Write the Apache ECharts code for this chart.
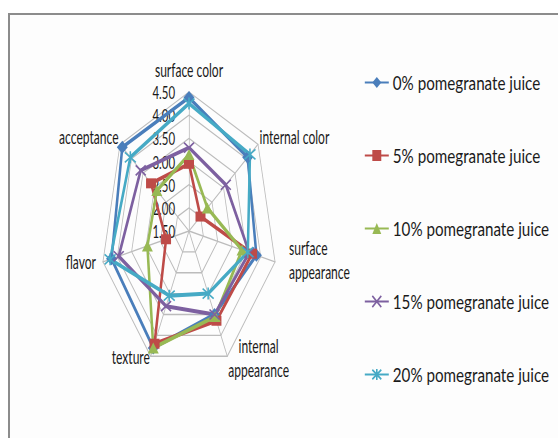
<!DOCTYPE html>
<html>
<head>
<meta charset="utf-8">
<script src="https://cdn.jsdelivr.net/npm/echarts@6/dist/echarts.min.js"></script>
<style>
html,body{margin:0;padding:0;background:#ffffff;}
#wrap{position:relative;width:558px;height:438px;overflow:hidden;background:#ffffff;}
#frame{position:absolute;left:8px;top:13px;width:700px;height:600px;border-left:2px solid #8c8c8c;border-top:2px solid #8c8c8c;background:#fdfdfd;}
#plot{position:absolute;left:-300px;top:0;width:1158px;height:438px;transform-origin:489px 231px;transform:scaleX(0.635);}
#leg{position:absolute;left:360px;top:0;width:260px;height:438px;transform-origin:0 0;transform:scaleX(0.8);}
</style>
</head>
<body>
<div id="wrap"><div id="frame"></div><div id="plot"></div><div id="leg"></div></div>
<script>
// ---- data ----
const categories = ['surface color', 'internal color', 'surface appearance', 'internal appearance', 'texture', 'flavor', 'acceptance'];
const seriesNames = ['0% pomegranate juice', '5% pomegranate juice', '10% pomegranate juice', '15% pomegranate juice', '20% pomegranate juice'];
const juice0  = [4.38, 4.05, 3.85, 3.50, 4.30, 4.20, 4.40];
const juice5  = [2.95, 2.00, 3.70, 3.65, 4.20, 2.30, 3.15];
const juice10 = [3.15, 2.30, 3.35, 3.55, 4.30, 2.95, 2.90];
const juice15 = [3.30, 3.10, 3.60, 3.50, 3.30, 3.95, 3.60];
const juice20 = [4.25, 4.15, 3.55, 3.00, 3.05, 4.25, 4.05];
const scaleMin = 1.5;
const scaleMax = 4.5;
const scaleStep = 0.5;

// ---- style / layout ----
const OFF = 300;                       // plot div starts 300px left of the page
const CX = 189 + OFF, CY = 231, R = 139, SX = 0.635;
const colors = ['#4a7ebb', '#be4b48', '#98b954', '#7d60a0', '#46aac5'];
const symbols = [
  'diamond',
  'rect',
  'triangle',
  'path://M0,0L10,10M10,0L0,10',
  'path://M0,0L10,10M10,0L0,10M5,-1L5,11'
];
const symSizes = [[11, 13], [10, 10], [11, 11], [10, 10], [11, 12]];
const FONT = 'Lato, "Open Sans", sans-serif';
const TXT = '#1a1a1a';

// rich-text styles used to nudge individual axis names (layout only)
const nameRich = {
  top:  {fontFamily: FONT, fontSize: 19, color: TXT, padding: [0, 0, 10, 0]},
  up:   {fontFamily: FONT, fontSize: 19, color: TXT, padding: [0, 0, 12, 0]},
  sapp: {fontFamily: FONT, fontSize: 19, color: TXT, lineHeight: 24, padding: [0, 0, 6, 19]},
  mid:  {fontFamily: FONT, fontSize: 19, color: TXT, lineHeight: 24, align: 'center', padding: [0, 0, 4, 0]},
  tex:  {fontFamily: FONT, fontSize: 19, color: TXT, padding: [0, 0, 6, 0]},
  flav: {fontFamily: FONT, fontSize: 19, color: TXT, padding: [0, 8, 3, 0]},
  std:  {fontFamily: FONT, fontSize: 19, color: TXT}
};
const nameStyleKey = {
  'surface color': 'top',
  'internal color': 'up',
  'acceptance': 'up',
  'surface appearance': 'sapp',
  'internal appearance': 'mid',
  'texture': 'tex',
  'flavor': 'flav'
};
function formatName(name) {
  const key = nameStyleKey[name] || 'std';
  return name.indexOf('appearance') >= 0
    ? name.split(' ').map(w => '{' + key + '|' + w + '}').join('\n')
    : '{' + key + '|' + name + '}';
}

// ECharts lays radar indicators counter-clockwise; the reference runs clockwise.
const order = [0, 6, 5, 4, 3, 2, 1];
const allData = [juice0, juice5, juice10, juice15, juice20];

const indicators = order.map((i, k) => {
  const ind = {name: categories[i], min: scaleMin, max: scaleMax};
  if (k !== 0) ind.axisLabel = {show: false};
  return ind;
});

// ---- radar plot (squeezed horizontally like the reference) ----
const plot = echarts.init(document.getElementById('plot'), null, {renderer: 'svg'});
plot.setOption({
  animation: false,
  radar: {
    center: [CX, CY],
    radius: R,
    startAngle: 90,
    splitNumber: Math.round((scaleMax - scaleMin) / scaleStep),
    shape: 'polygon',
    indicator: indicators,
    nameGap: 3,
    axisName: {
      fontFamily: FONT, fontSize: 19, color: TXT,
      formatter: formatName,
      rich: nameRich
    },
    axisLabel: {
      show: true, margin: 22, fontFamily: FONT, fontSize: 18, color: TXT,
      formatter: v => Number(v).toFixed(2)
    },
    axisTick: {show: false},
    axisLine: {lineStyle: {color: '#bcbcbc', width: 1.3}},
    splitLine: {lineStyle: {color: '#bcbcbc', width: 1.3}},
    splitArea: {show: false}
  },
  series: allData.map((vals, s) => ({
    type: 'radar',
    name: seriesNames[s],
    symbol: symbols[s],
    symbolSize: [symSizes[s][0] / SX, symSizes[s][1]],
    lineStyle: {color: colors[s], width: 4},
    itemStyle: {color: colors[s], borderColor: colors[s], borderWidth: s >= 3 ? 2 : 0},
    data: [{name: seriesNames[s], value: order.map(i => vals[i])}]
  }))
});

// ---- legend (squeezed like the reference text) ----
const leg = echarts.init(document.getElementById('leg'), null, {renderer: 'svg'});
leg.setOption({
  animation: false,
  grid: {show: false, left: 0, top: 0, width: 1, height: 1},
  xAxis: {show: false, type: 'value'},
  yAxis: {show: false, type: 'value'},
  legend: {
    orient: 'vertical',
    left: 0, top: 68,
    itemWidth: 30, itemHeight: 14, itemGap: 54,
    textStyle: {fontFamily: FONT, fontSize: 19, color: TXT},
    data: seriesNames
  },
  series: seriesNames.map((nm, s) => ({
    type: 'line', name: nm, data: [],
    symbol: symbols[s], symbolSize: 12,
    lineStyle: {color: colors[s], width: 3.5},
    itemStyle: {color: colors[s], borderColor: colors[s], borderWidth: s >= 3 ? 2 : 0}
  }))
});
</script>
</body>
</html>
